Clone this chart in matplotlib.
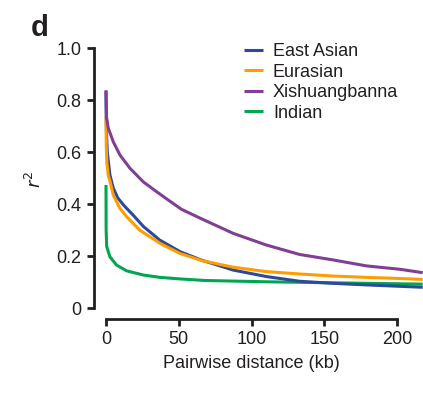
import matplotlib
matplotlib.use("Agg")
import matplotlib.pyplot as plt

plt.rcParams['font.family'] = ['Liberation Sans', 'DejaVu Sans']

# Data (pairwise distance in kb, r^2)
east_asian_x = [0, 0.3, 0.9, 2.7, 5, 8, 11.9, 14.2, 18.7, 25.6, 37, 50.8, 65.7, 87.4,
                110.3, 133, 156, 179, 200, 217.6]
east_asian_y = [0.835, 0.68, 0.60, 0.512, 0.462, 0.425, 0.398, 0.384, 0.358, 0.315, 0.262,
                0.218, 0.185, 0.147, 0.122, 0.104, 0.096, 0.090, 0.085, 0.081]

eurasian_x = [0, 0.2, 0.6, 1.6, 2.7, 5, 9.6, 14.2, 23.3, 37, 50.8, 66, 87.4, 110.3,
              133, 156, 179, 200, 217.6]
eurasian_y = [0.735, 0.62, 0.56, 0.51, 0.49, 0.435, 0.384, 0.352, 0.30, 0.25, 0.211,
              0.183, 0.158, 0.141, 0.132, 0.124, 0.119, 0.115, 0.111]

xishuangbanna_x = [0, 0.3, 1.6, 5.0, 9.6, 16.5, 25.6, 34.8, 42.8, 52, 66, 87.4, 110.3,
                   133, 156, 179, 202, 217.6]
xishuangbanna_y = [0.838, 0.736, 0.692, 0.64, 0.589, 0.538, 0.486, 0.448, 0.416, 0.38,
                   0.343, 0.288, 0.243, 0.207, 0.186, 0.163, 0.150, 0.137]

indian_x = [0, 0.1, 0.5, 2.7, 7.3, 14.2, 25.6, 37, 50.8, 68, 110, 156, 217.6]
indian_y = [0.474, 0.30, 0.237, 0.198, 0.166, 0.144, 0.128, 0.119, 0.113, 0.107, 0.102,
            0.098, 0.093]

series_names = ["East Asian", "Eurasian", "Xishuangbanna", "Indian"]
x_ticks = [0, 50, 100, 150, 200]
y_ticks = [0, 0.2, 0.4, 0.6, 0.8, 1.0]
y_tick_labels = ["0", "0.2", "0.4", "0.6", "0.8", "1.0"]

colors = ["#2b4a9b", "#ff9c00", "#813f93", "#00a651"]
textc = "#231f20"

fig = plt.figure(figsize=(4.23, 3.93), dpi=100)
ax = fig.add_axes([94/423, (393-319)/393, (423-94)/423, (319-40)/393])

data = [(east_asian_x, east_asian_y), (eurasian_x, eurasian_y),
        (xishuangbanna_x, xishuangbanna_y), (indian_x, indian_y)]
# draw order: green, blue, orange, purple on top
order = [3, 0, 1, 2]
lines = {}
for i in order:
    x, y = data[i]
    ln, = ax.plot(x, y, color=colors[i], lw=2.2, solid_capstyle='butt',
                  solid_joinstyle='round', label=series_names[i])
    lines[i] = ln

ax.set_xlim(-8.24, 217.8)
ax.set_ylim(-0.041, 1.031)
for s in ["top", "right"]:
    ax.spines[s].set_visible(False)
for s in ["left", "bottom"]:
    ax.spines[s].set_linewidth(2.0)
    ax.spines[s].set_color(textc)
ax.spines["left"].set_bounds(0, 1.0)
ax.spines["bottom"].set_bounds(0, 200)

ax.set_xticks(x_ticks)
ax.set_xticklabels([str(t) for t in x_ticks])
ax.set_yticks(y_ticks)
ax.set_yticklabels(y_tick_labels)
ax.tick_params(axis='both', direction='out', length=5, width=2.0, color=textc,
               labelsize=13, labelcolor=textc, pad=4)

ax.set_xlabel("Pairwise distance (kb)", fontsize=13, color=textc)
ax.xaxis.set_label_coords((100 + 8.24) / (217.8 + 8.24), -(363 - 319) / 279)
ax.xaxis.label.set_va('center')
ax.set_ylabel(r"$\mathit{r}^{2}$", fontsize=13, color=textc, labelpad=8)

handles = [lines[i] for i in range(4)]
leg = ax.legend(handles, series_names, loc='upper left', bbox_to_anchor=(0.456, 0.988),
                frameon=False, fontsize=13, handlelength=1.05, handletextpad=0.55,
                labelspacing=0.19, borderaxespad=0, borderpad=0)
for t in leg.get_texts():
    t.set_color(textc)

fig.text(31/423, 1 - 36/393, "d", fontsize=21, fontweight='bold', color=textc,
         ha='left', va='baseline')

fig.savefig("out.png", dpi=100)
